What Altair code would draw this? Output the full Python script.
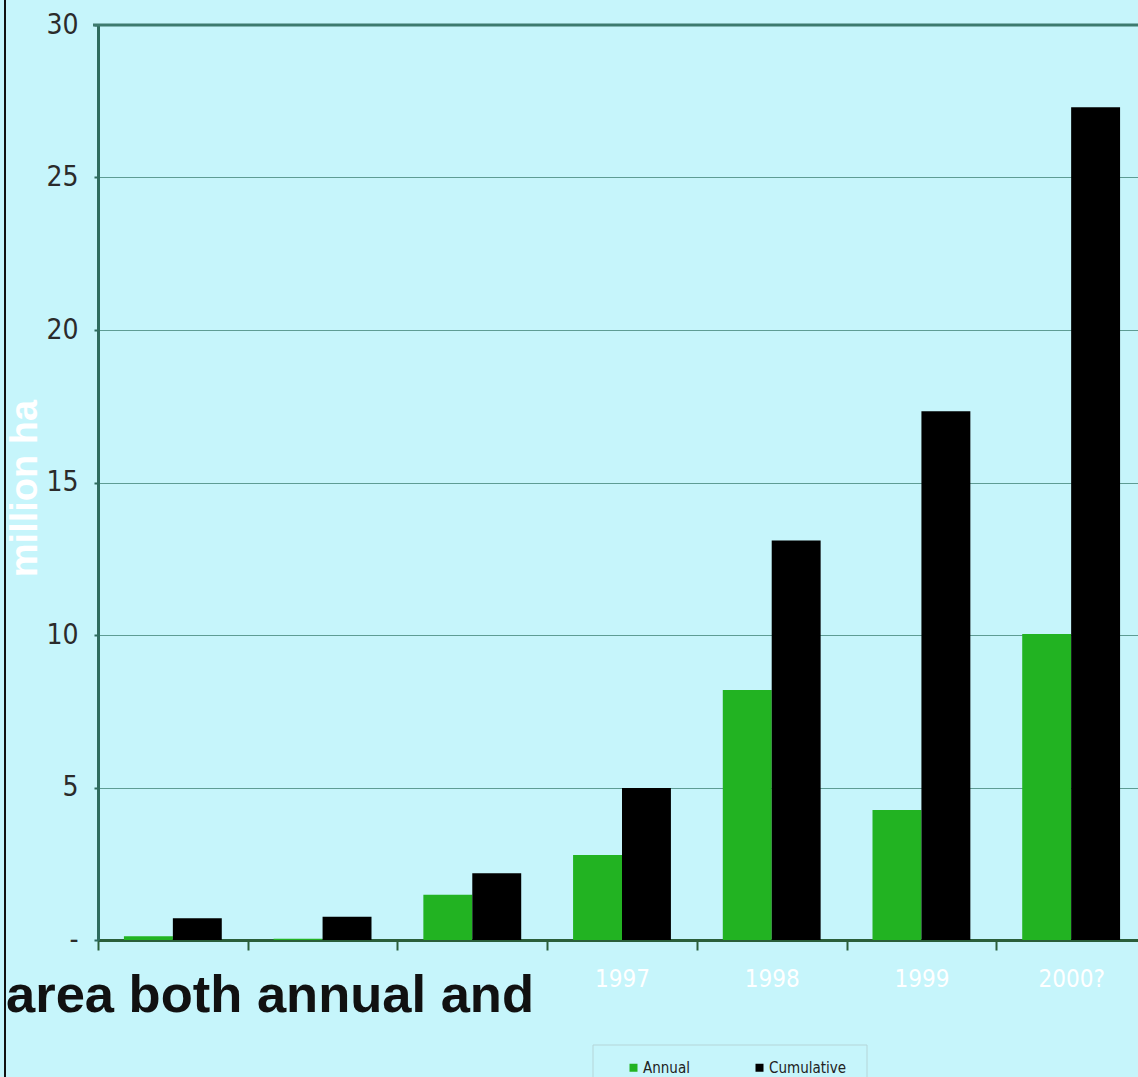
import altair as alt
import pandas as pd

years = ["1994", "1995", "1996", "1997", "1998", "1999", "2000?"]
hidden_labels = ["1994", "1995", "1996"]  # covered by the slide text in the reference
annual = [0.12, 0.04, 1.48, 2.79, 8.2, 4.26, 10.03]
cumulative = [0.71, 0.76, 2.19, 4.98, 13.1, 17.34, 27.3]
series = ["Annual", "Cumulative"]
colors = ["#22B322", "#000000"]
y_ticks = [0, 5, 10, 15, 20, 25, 30]
overlay_text = ["area both annual and"]
y_title = "million ha"

rows = []
for yr, a, c in zip(years, annual, cumulative):
    rows.append({"year": yr, "series": series[0], "value": a})
    rows.append({"year": yr, "series": series[1], "value": c})
df = pd.DataFrame(rows)

BG = "#C6F5FB"
NARROW = "Liberation Sans Narrow, DejaVu Sans Condensed, Arial Narrow, sans-serif"
W, H = 1040, 915
hidden_js = "[" + ",".join("'" + h + "'" for h in hidden_labels) + "]"

bars = alt.Chart(df).mark_bar().encode(
    x=alt.X(
        "year:N", sort=years, title=None,
        scale=alt.Scale(range=[0, 1048], paddingInner=0, paddingOuter=0),
        axis=alt.Axis(
            grid=False, domainColor="#2A5E3A", domainWidth=3,
            tickBand="extent", tickColor="#2A5E3A", tickSize=10, tickWidth=2,
            labelColor="#FFFFFF", labelFont=NARROW, labelFontSize=24,
            labelPadding=17, labelAngle=0,
            labelExpr="indexof(" + hidden_js + ", datum.value) >= 0 ? '' : datum.label",
        ),
    ),
    xOffset=alt.XOffset("series:N", sort=series,
                        scale=alt.Scale(paddingInner=0, paddingOuter=0.53)),
    y=alt.Y(
        "value:Q", title=y_title,
        scale=alt.Scale(domain=[0, 30], nice=False),
        axis=alt.Axis(
            values=y_ticks,
            labelExpr="datum.value == 0 ? '-' : datum.label",
            domainColor="#2E6B5E", domainWidth=3,
            tickColor="#2E6B5E", tickSize=4, tickWidth=2,
            gridColor="#5E9C94", gridWidth=1,
            labelFont=NARROW, labelFontSize=28, labelColor="#2B2B2B",
            labelPadding=16,
            titleColor="#FFFFFF", titleFont="Liberation Sans", titleFontSize=38,
            titleFontWeight="bold", titleX=-73, titleY=463, titleAngle=270,
            titleAlign="center", titleBaseline="middle",
        ),
    ),
    color=alt.Color(
        "series:N",
        scale=alt.Scale(domain=series, range=colors),
        legend=alt.Legend(
            title=None, orient="none", legendX=528, legendY=1035,
            direction="horizontal", symbolType="square", symbolSize=64,
            symbolStrokeWidth=0, labelFont=NARROW, labelFontSize=15,
            labelColor="#222222", labelOffset=2, columnPadding=62, padding=0,
        ),
    ),
)

top_line = alt.Chart(pd.DataFrame({"k": [0]})).mark_rule(
    color="#3D7A6E", strokeWidth=3
).encode(x=alt.value(-5), x2=alt.value(W), y=alt.value(0))

slide_border = alt.Chart(pd.DataFrame({"k": [0]})).mark_rule(
    color="#111111", strokeWidth=2
).encode(x=alt.value(-93), y=alt.value(-25), y2=alt.value(1052))

legend_box = alt.Chart(pd.DataFrame({"k": [0]})).mark_rect(
    fill=None, stroke="#B5D5D8", strokeWidth=1
).encode(x=alt.value(495), x2=alt.value(769), y=alt.value(1020), y2=alt.value(1070))

overlay = alt.Chart(pd.DataFrame({"t": overlay_text})).mark_text(
    align="left", baseline="alphabetic", font="Liberation Sans",
    fontWeight="bold", fontSize=52.5, color="#111111"
).encode(text="t:N", x=alt.value(-92), y=alt.value(987))

chart = alt.layer(bars, top_line, legend_box, overlay, slide_border).properties(
    width=W, height=H,
    background=BG,
    padding={"left": 98, "top": 25, "right": 0, "bottom": 137},
    autosize=alt.AutoSizeParams(type="none"),
).configure_view(stroke=None)

chart.save("out.html", embed_options={"renderer": "svg", "actions": False})
